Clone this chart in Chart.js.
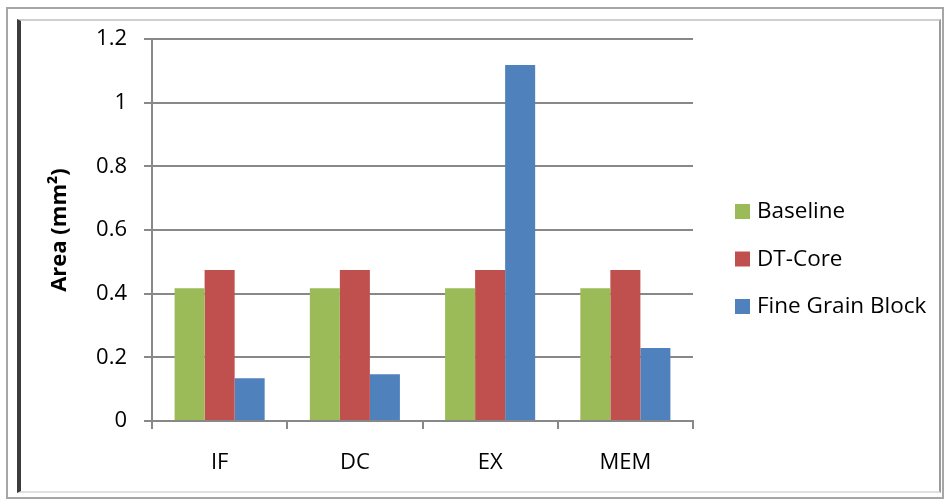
<!DOCTYPE html>
<html>
<head>
<meta charset="utf-8">
<script src="https://cdn.jsdelivr.net/npm/chart.js@4.4.0/dist/chart.umd.min.js"></script>
<style>
    body { margin: 0; background: #fff; }
    #outer { position: absolute; left: 6px; top: 7px; width: 934px; height: 488px; border: 2px solid #a6a6a6; }
    #inner { position: absolute; left: 17px; top: 19px; width: 918px; height: 470px;
             border-left: 4px solid #3c3c3c; border-top: 2px solid #cfcfcf;
             border-right: 2px solid #9a9a9a; border-bottom: 2px solid #e0e0e0; }
    #wrap { position: absolute; left: 0; top: 0; width: 947px; height: 501px; }
</style>
</head>
<body>
<div id="outer"></div>
<div id="inner"></div>
<div id="wrap"><canvas id="myChart" width="947" height="501"></canvas></div>
<script>
// donnees
var categories = ['IF', 'DC', 'EX', 'MEM'];
var seriesNames = ['Baseline', 'DT-Core', 'Fine Grain Block'];
var baseline = [0.417, 0.417, 0.417, 0.417];
var dtCore = [0.474, 0.474, 0.474, 0.474];
var fineGrain = [0.134, 0.147, 1.118, 0.229];
var yTicks = [0, 0.2, 0.4, 0.6, 0.8, 1, 1.2];
var colors = ['#9BBB59', '#C0504D', '#4F81BD'];

var fontFamily = '"Open Sans", "Noto Sans", sans-serif';

// legende dessinee a droite
var sideLegend = {
    id: 'sideLegend',
    afterDraw: function(chart) {
        var ctx = chart.ctx;
        ctx.save();
        ctx.font = '22.5px ' + fontFamily;
        ctx.textBaseline = 'middle';
        chart.data.datasets.forEach(function(ds, i) {
            var y = 211 + i * 47.5;
            ctx.fillStyle = ds.backgroundColor;
            ctx.fillRect(735, y - 7, 15, 15);
            ctx.fillStyle = '#000';
            ctx.fillText(ds.label, 757, y + 1);
        });
        ctx.restore();
    }
};

var ctx = document.getElementById('myChart').getContext('2d');
var myChart = new Chart(ctx, {
    type: 'bar',
    data: {
        labels: categories,
        datasets: [
            { label: seriesNames[0], data: baseline, backgroundColor: colors[0] },
            { label: seriesNames[1], data: dtCore, backgroundColor: colors[1] },
            { label: seriesNames[2], data: fineGrain, backgroundColor: colors[2] }
        ]
    },
    options: {
        responsive: false,
        animation: false,
        layout: { padding: { left: 0, top: 39, right: 254, bottom: 0 } },
        datasets: { bar: { categoryPercentage: 0.666, barPercentage: 1.0 } },
        plugins: { legend: { display: false }, tooltip: { enabled: false } },
        scales: {
            x: {
                grid: { offset: true, drawOnChartArea: false, color: '#888', lineWidth: 2, tickLength: 8 },
                border: { color: '#888', width: 2 },
                ticks: { color: '#000', padding: 21, font: { family: fontFamily, size: 22 } },
                afterFit: function(scale) { scale.height = 80; }
            },
            y: {
                min: 0,
                max: 1.2,
                afterBuildTicks: function(scale) {
                    scale.ticks = yTicks.map(function(v) { return { value: v }; });
                },
                grid: { color: '#888', lineWidth: 2, tickLength: 8 },
                border: { color: '#888', width: 2 },
                ticks: {
                    color: '#000', padding: 17,
                    font: { family: fontFamily, size: 22 },
                    callback: function(v) { return String(v); }
                },
                title: {
                    display: true,
                    text: 'Area (mm²)',
                    color: '#000',
                    padding: { top: 47, bottom: 0 },
                    font: { family: fontFamily, size: 22, weight: 'bold' }
                },
                afterFit: function(scale) { scale.width = 152; }
            }
        }
    },
    plugins: [sideLegend]
});
</script>
</body>
</html>
